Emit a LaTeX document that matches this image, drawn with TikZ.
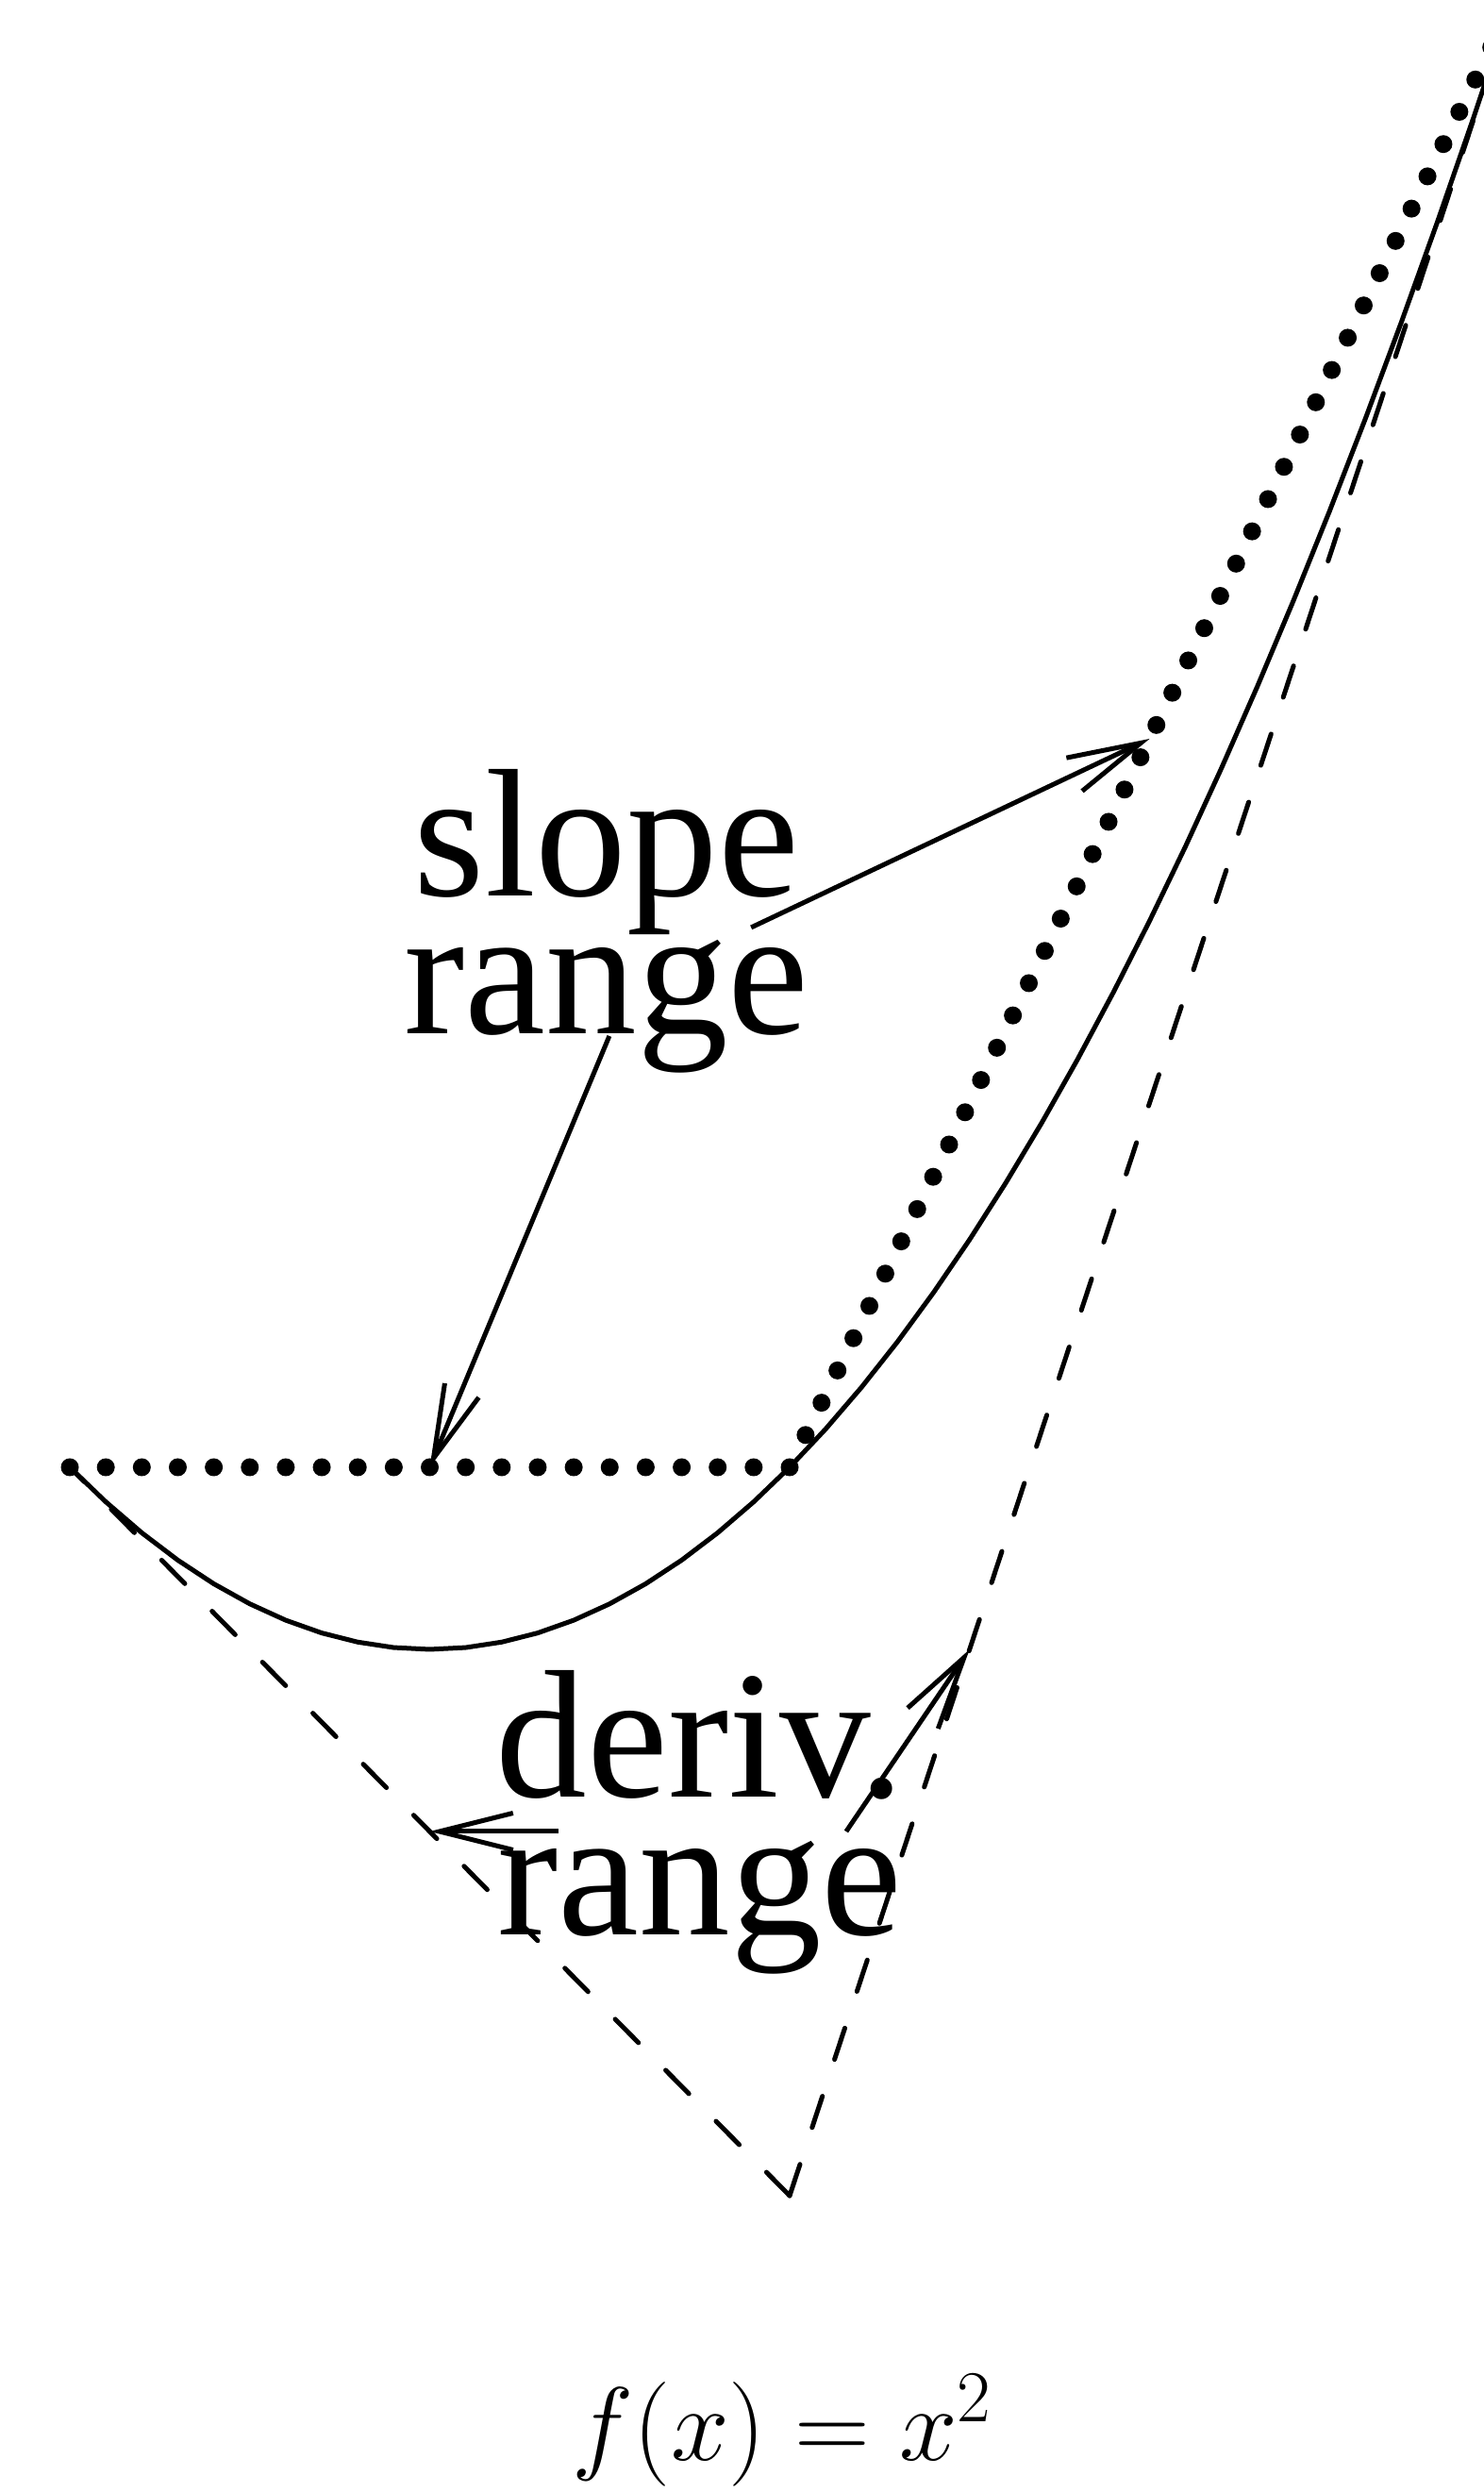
\documentclass[tikz,border=0pt]{standalone}
\usepackage{fix-cm}
\usepackage[no-math]{fontspec}
\newfontfamily\etichetta{Liberation Serif}
\usetikzlibrary{arrows.meta}

\begin{document}
\begin{tikzpicture}[x=3.815cm, y=1.93cm, line width=0.5mm]
			\tikzset{
				curva/.style={line join=round},
				secante/.style={line width=1.9mm, line cap=round, dash pattern=on 0pt off 3.815mm},
				tangente/.style={line cap=round, dash pattern=on 3.5mm off 4.1mm},
				freccia/.style={-{Straight Barb[length=7.8mm, width=3.9mm]}},
				testo/.style={inner sep=0pt, anchor=base, align=center, font=\etichetta\fontsize{55}{41.3}\selectfont}
			}
			
			% Cornice
			\useasboundingbox (-1.194,-4.627) rectangle (2.929,9.057);
			\clip (-1.194,-4.627) rectangle (2.929,9.057);
			
			% Punti della parabola
			\coordinate (A) at (-1, 1);
			\coordinate (B) at (1, 1);
			\coordinate (C) at (3, 9);
			\coordinate (V) at (1, -3);
			
			% Parabola, secanti e tangenti
			\draw[curva] plot[domain=-1:3, samples=41] (\x, {\x*\x});
			\draw[secante] (A) -- (B) -- (C);
			\draw[tangente] (V) -- (A);
			\draw[tangente] (V) -- (C);
			
			% Etichette (base = ultima riga)
			\node[testo] (slope) at (0.491, 3.383) {slope\\range};
			\node[testo] (deriv) at (0.751, -1.565) {deriv.\\range};
			\node[inner sep=0pt, anchor=base, font=\fontsize{31.5}{38}\selectfont] (fx) at (0.98, -4.451) {$f(x) = x^2$};
			
			% Frecce
			\coordinate (s1) at (0.893, 3.964);
			\coordinate (s2) at (0.499, 3.368);
			\coordinate (d1) at (0.358, -1);
			\coordinate (d2) at (1.157, -1);
			\coordinate (ps1) at (2, 5);
			\coordinate (ps2) at (0, 1);
			\coordinate (pd1) at (0, -1);
			\coordinate (pd2) at (1.5, 0);
			
			\draw[freccia] (s1) -- (ps1);
			\draw[freccia] (s2) -- (ps2);
			\draw[freccia] (d1) -- (pd1);
			\draw[freccia] (d2) -- (pd2);
		\end{tikzpicture}
\end{document}
